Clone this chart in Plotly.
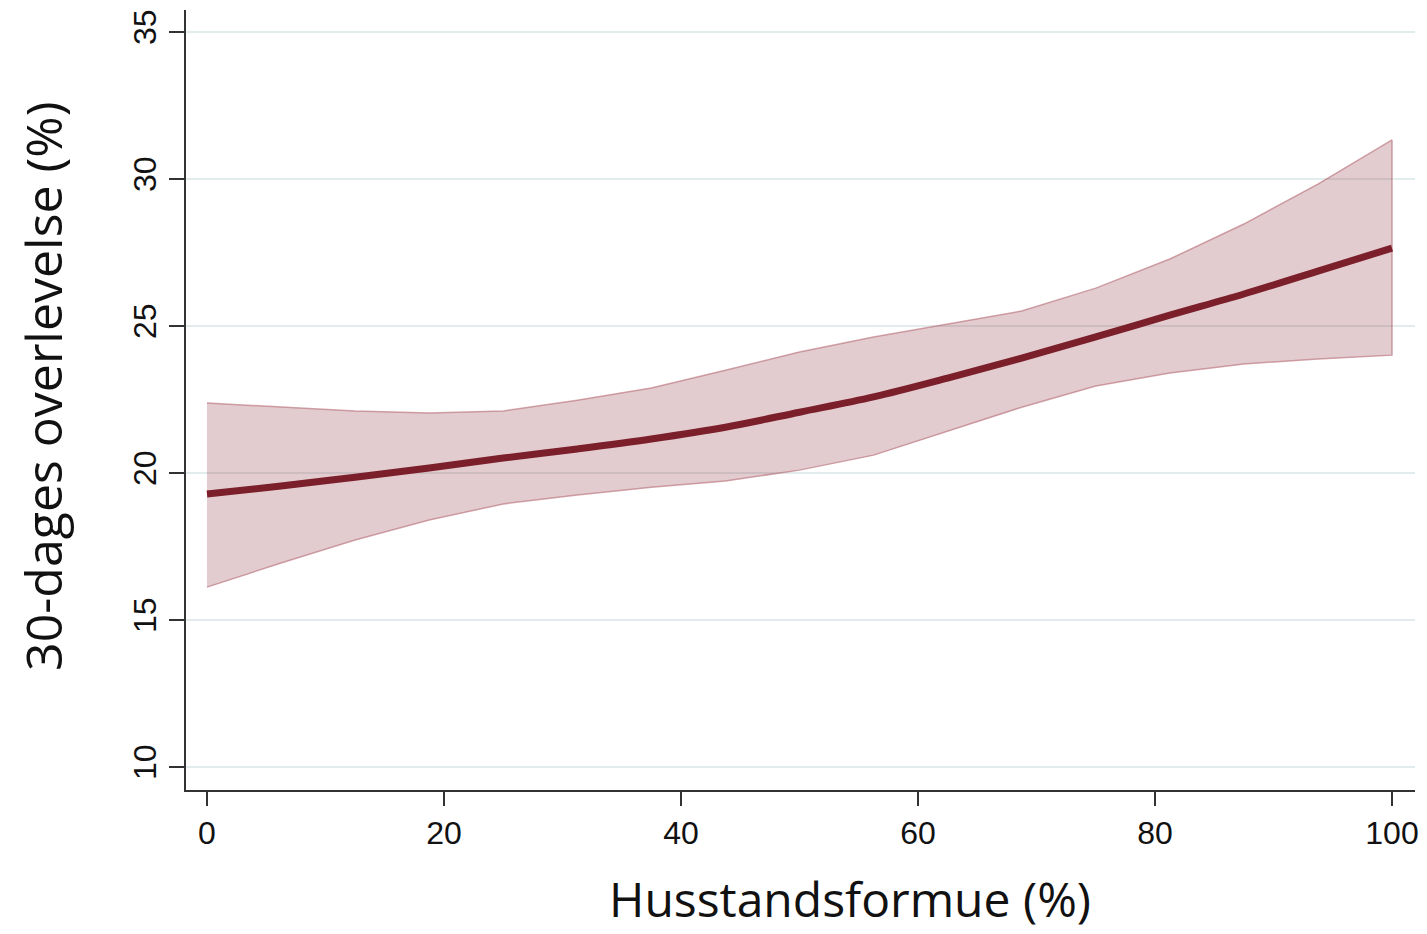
import plotly.graph_objects as go

# Data
wealth_pct = [0, 6.25, 12.5, 18.75, 25, 31.25, 37.5, 43.75, 50, 56.25,
              62.5, 68.75, 75, 81.25, 87.5, 93.75, 100]
survival = [19.29, 19.56, 19.86, 20.17, 20.51, 20.82, 21.16, 21.56, 22.07, 22.59,
            23.23, 23.91, 24.63, 25.37, 26.09, 26.87, 27.65]
ci_upper = [22.38, 22.24, 22.11, 22.04, 22.11, 22.48, 22.89, 23.50, 24.12, 24.63,
            25.07, 25.51, 26.29, 27.28, 28.47, 29.83, 31.33]
ci_lower = [16.12, 16.94, 17.72, 18.40, 18.95, 19.25, 19.52, 19.73, 20.10, 20.61,
            21.43, 22.24, 22.96, 23.40, 23.71, 23.88, 24.01]

x_ticks = [0, 20, 40, 60, 80, 100]
y_ticks = [10, 15, 20, 25, 30, 35]

x_title = "Husstandsformue (%)"
y_title = "30-dages overlevelse (%)"

fig = go.Figure()

# Confidence band as closed polygon
fig.add_trace(go.Scatter(
    x=wealth_pct + wealth_pct[::-1],
    y=ci_upper + ci_lower[::-1],
    fill="toself",
    fillcolor="rgba(140, 40, 55, 0.24)",
    line=dict(color="rgba(180, 105, 115, 0.6)", width=1.5),
    mode="lines",
    hoverinfo="skip",
    showlegend=False,
))

fig.add_trace(go.Scatter(
    x=wealth_pct,
    y=survival,
    mode="lines",
    line=dict(color="#7b1f2b", width=7, shape="spline"),
    showlegend=False,
))

tick_font = dict(family="Liberation Sans, Arial, sans-serif", size=32, color="#111111")

fig.update_xaxes(
    range=[-1.77, 101.94],
    tickvals=x_ticks,
    ticks="outside", ticklen=14, tickwidth=2, tickcolor="#333333",
    showline=True, linecolor="#333333", linewidth=2,
    showgrid=False, zeroline=False,
    tickfont=tick_font,
)
fig.update_yaxes(
    range=[9.22, 35.75],
    tickvals=y_ticks,
    ticks="outside", ticklen=15, tickwidth=2, tickcolor="#333333",
    showline=True, linecolor="#333333", linewidth=2,
    showgrid=True, gridcolor="#e3ecec", gridwidth=2,
    zeroline=False,
    tickangle=-90,
    tickfont=tick_font,
)

title_font = dict(family="Open Sans, Noto Sans, sans-serif", size=50, color="#111111")
x_title_font = dict(family="Open Sans, Noto Sans, sans-serif", size=48, color="#111111")

fig.update_layout(
    width=1419, height=926,
    margin=dict(l=178, r=12, t=2, b=144),
    paper_bgcolor="white",
    plot_bgcolor="white",
    annotations=[
        dict(text=x_title, xref="paper", yref="paper", x=0.5403, y=-0.1385,
             xanchor="center", yanchor="middle", showarrow=False, font=x_title_font),
        dict(text=y_title, xref="paper", yref="paper", x=-0.1164, y=0.518,
             xanchor="center", yanchor="middle", textangle=-90, showarrow=False,
             font=title_font),
    ],
)

fig.write_html("out.html")
